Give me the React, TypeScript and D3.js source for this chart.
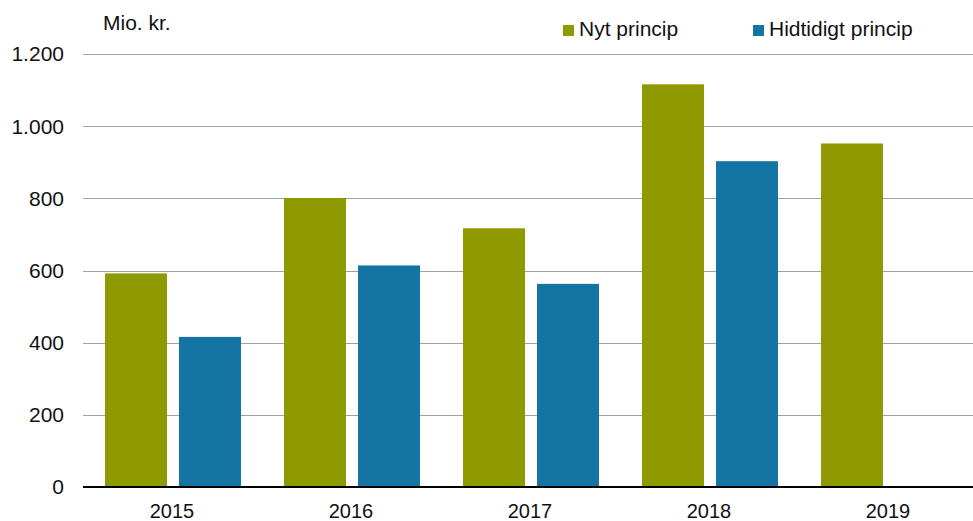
import { useEffect, useRef } from "react";
import * as d3 from "d3";

const years = ["2015", "2016", "2017", "2018", "2019"];
const nytPrincip = [592, 801, 717, 1116, 952];
const hidtidigtPrincip: (number | null)[] = [416, 614, 563, 903, null];
const yTicks = [0, 200, 400, 600, 800, 1000, 1200];

const seriesNames = ["Nyt princip", "Hidtidigt princip"];
const seriesColors = ["#8f9900", "#1474a4"];

const W = 973;
const H = 521;
const FONT = "Liberation Sans, Arial, sans-serif";

const App = () => {
  const ref = useRef<SVGSVGElement | null>(null);

  useEffect(() => {
    if (!ref.current) return;
    const svg = d3.select(ref.current);
    svg.selectAll("*").remove();

    const x = d3.scaleBand<string>().domain(years).range([83, 978]).paddingInner(0).paddingOuter(0);
    const y = d3.scaleLinear().domain([0, 1200]).range([487, 54]);
    // two bars of 62px with a 12px gap, centred in each year band
    const inner = d3
      .scaleBand<number>()
      .domain([0, 1])
      .range([22, x.bandwidth() - 21])
      .paddingInner(12 / 74)
      .paddingOuter(0);

    // gridlines
    svg
      .append("g")
      .selectAll("line")
      .data(yTicks.filter(t => t > 0))
      .enter()
      .append("line")
      .attr("x1", 83)
      .attr("x2", W)
      .attr("y1", d => Math.round(y(d)) + 0.5)
      .attr("y2", d => Math.round(y(d)) + 0.5)
      .attr("stroke", "#a0a0a0")
      .attr("stroke-width", 1);

    // y labels
    svg
      .append("g")
      .selectAll("text")
      .data(yTicks)
      .enter()
      .append("text")
      .attr("x", 64)
      .attr("y", d => y(d))
      .attr("dy", "0.35em")
      .attr("text-anchor", "end")
      .attr("font-family", FONT)
      .attr("font-size", 21)
      .attr("fill", "#111")
      .text(d => d3.format(",")(d).replace(/,/g, "."));

    // bars
    const series = [nytPrincip, hidtidigtPrincip];
    series.forEach((vals, si) => {
      svg
        .append("g")
        .selectAll("rect")
        .data(vals.map((v, i) => ({ year: years[i], v })).filter(d => d.v != null))
        .enter()
        .append("rect")
        .attr("x", d => (x(d.year) ?? 0) + (inner(si) ?? 0))
        .attr("width", inner.bandwidth())
        .attr("y", d => y(d.v as number))
        .attr("height", d => y(0) - y(d.v as number))
        .attr("fill", seriesColors[si]);
    });

    // x axis line
    svg
      .append("line")
      .attr("x1", 83)
      .attr("x2", W)
      .attr("y1", 487)
      .attr("y2", 487)
      .attr("stroke", "#000")
      .attr("stroke-width", 2);

    // x labels
    svg
      .append("g")
      .selectAll("text")
      .data(years)
      .enter()
      .append("text")
      .attr("x", d => (x(d) ?? 0) + x.bandwidth() / 2 - 0.5)
      .attr("y", 518)
      .attr("text-anchor", "middle")
      .attr("font-family", FONT)
      .attr("font-size", 20)
      .attr("fill", "#111")
      .text(d => d);

    // unit label
    svg
      .append("text")
      .attr("x", 103)
      .attr("y", 30)
      .attr("font-family", FONT)
      .attr("font-size", 21)
      .attr("fill", "#111")
      .text("Mio. kr.");

    // legend
    const legendX = [563, 753];
    seriesNames.forEach((name, i) => {
      svg
        .append("rect")
        .attr("x", legendX[i])
        .attr("y", 25)
        .attr("width", 11)
        .attr("height", 11)
        .attr("fill", seriesColors[i]);
      svg
        .append("text")
        .attr("x", legendX[i] + 16)
        .attr("y", 36)
        .attr("font-family", FONT)
        .attr("font-size", 21)
        .attr("fill", "#111")
        .text(name);
    });
  }, []);

  return (
    <svg
      ref={ref}
      width={W}
      height={H}
      viewBox={`0 0 ${W} ${H}`}
      style={{ position: "absolute", left: 0, top: 0, display: "block", background: "#fff" }}
    />
  );
};

export default App;
